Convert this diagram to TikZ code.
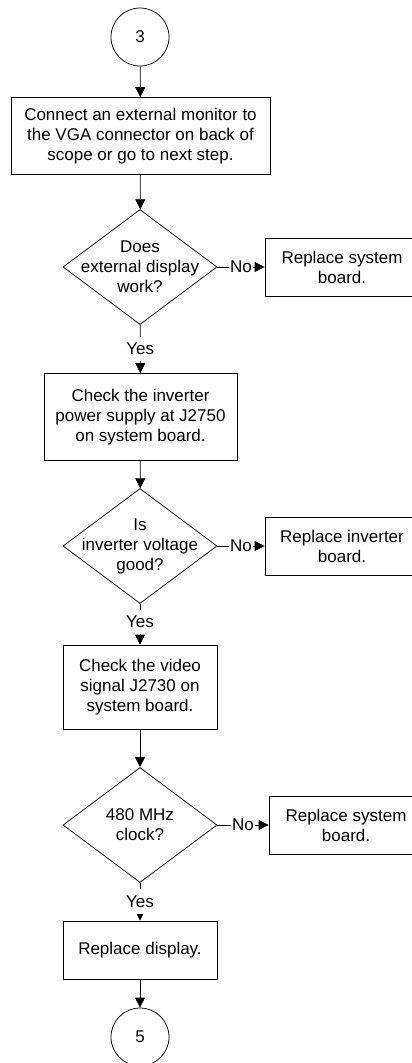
\documentclass[tikz,border=0pt]{standalone}
\usepackage{fontspec}
\setmainfont{Liberation Sans}
\usetikzlibrary{shapes.geometric,arrows.meta}

\begin{document}
\begin{tikzpicture}[x=1pt, y=-1pt, line width=0.75pt,
    every node/.style={font=\fontsize{17}{20}\selectfont, align=center},
    procbox/.style={draw, rectangle, minimum width=154pt, minimum height=58pt, inner sep=0pt},
    decision/.style={draw, diamond, minimum width=154pt, minimum height=115pt, inner sep=0pt},
    connector/.style={draw, circle, minimum size=58pt, inner sep=0pt},
    arr/.style={-{Triangle[length=10pt,width=10pt]}},
    nolabel/.style={fill=white, inner sep=1pt},
    yeslabel/.style={fill=white, inner xsep=2pt, inner ysep=6.5pt}]
    \useasboundingbox (0,0) rectangle (412,1063);

    % main column
    \node[connector] (c3) at (140,37) {3};
    \node[procbox, minimum width=259pt, minimum height=77pt] (b1) at (140.5,136)
        {Connect an external monitor to\\the VGA connector on back of\\scope or go to next step.};
    \node[decision, label={center:Does\\external display\\work?}] (d1) at (140,267) {};
    \node[procbox, minimum width=193pt, minimum height=87pt] (b2) at (140.5,417)
        {Check the inverter\\power supply at J2750\\on system board.};
    \node[decision, label={center:Is\\inverter voltage\\good?}] (d2) at (140,546) {};
    \node[procbox, minimum height=84pt] (b3) at (140,687)
        {Check the video\\signal J2730 on\\system board.};
    \node[decision, label={center:480 MHz\\clock?}] (d3) at (140,825) {};
    \node[procbox] (b4) at (140,950) {Replace display.};
    \node[connector] (c5) at (140,1037) {5};

    % replacement boxes on the right
    \node[procbox] (r1) at (342,267) {Replace system\\board.};
    \node[procbox] (r2) at (342,546) {Replace inverter\\board.};
    \node[procbox] (r3) at (346,825) {Replace system\\board.};

    % arrows
    \draw[arr] (c3) -- (b1);
    \draw[arr] (b1) -- (d1);
    \draw[arr] (d1) -- node[yeslabel] {Yes} (b2);
    \draw[arr] (b2) -- (d2);
    \draw[arr] (d2) -- node[yeslabel, pos=0.445] {Yes} (b3);
    \draw[arr] (b3) -- (d3);
    \draw[arr] (d3) -- node[yeslabel, pos=0.49] {Yes} (b4);
    \draw[arr] (b4) -- (c5);

    \draw[arr] (d1) -- node[nolabel] {No} (r1);
    \draw[arr] (d2) -- node[nolabel] {No} (r2);
    \draw[arr] (d3) -- node[nolabel] {No} (r3);
\end{tikzpicture}
\end{document}
